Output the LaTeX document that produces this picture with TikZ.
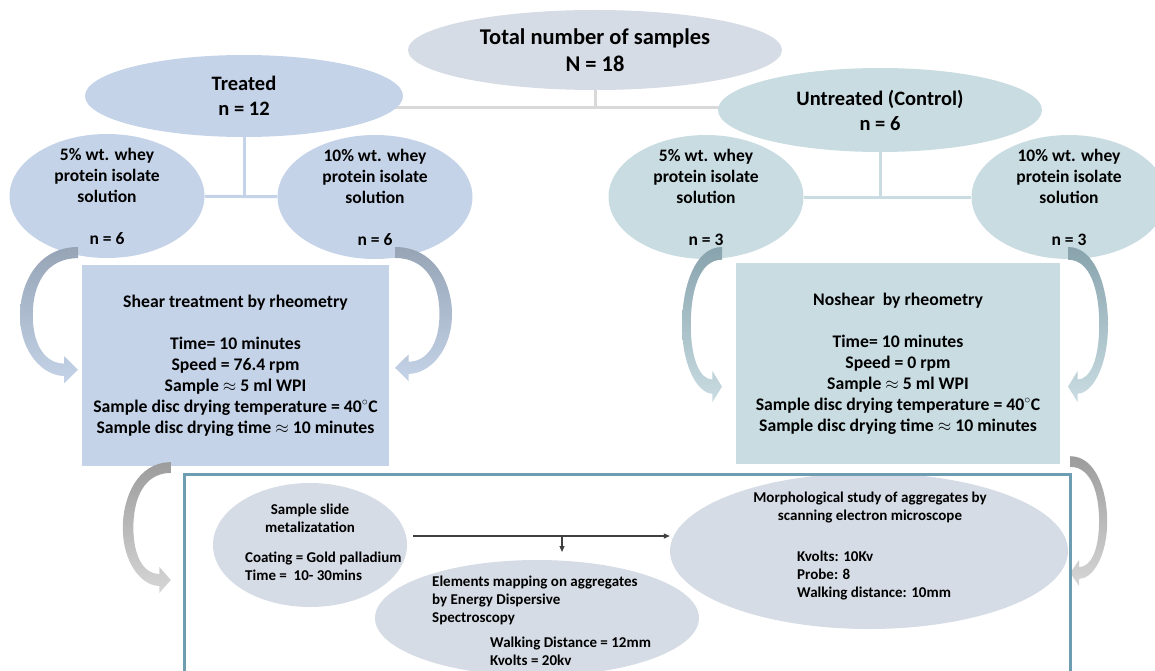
\documentclass[tikz,border=0pt]{standalone}
\usepackage{fontspec}
\setmainfont{Carlito}
\usetikzlibrary{positioning,calc,shapes.geometric,arrows.meta,backgrounds}

\definecolor{topfill}{HTML}{D6DCE5}
\definecolor{tfill}{HTML}{C5D3E8}
\definecolor{ufill}{HTML}{C9DCE2}
\definecolor{framecol}{HTML}{6E9CB0}
\definecolor{joincol}{HTML}{D9D9D9}
\definecolor{tdark}{HTML}{96A4B6}
\definecolor{udark}{HTML}{88A3AD}
\definecolor{gdark}{HTML}{9C9C9C}
\definecolor{glight}{HTML}{D6D6D6}

\tikzset{
  blob/.style={ellipse,inner sep=0pt,align=center},
  kid/.style={blob,minimum width=195pt,minimum height=124pt},
  kidtxt/.style={align=center,inner sep=0pt,font=\fontsize{17.5}{21}\selectfont\bfseries},
  panel/.style={rectangle,inner sep=0pt,align=center,font=\fontsize{17.7}{21}\selectfont\bfseries},
  smalltxt/.style={inner sep=0pt,font=\fontsize{15}{18}\selectfont\bfseries},
  treeline/.style={line width=3pt},
  flow/.style={draw=black!75,line width=1.2pt,-{Triangle[length=6pt,width=5pt]}},
  pics/bendarrow/.style 2 args={code={
    \shade[top color=#1,bottom color=#2]
      (0,0) .. controls (-0.7,0) and (-1,0.3) .. (-1,0.55)
      .. controls (-1,0.85) and (-0.6,1.04) .. (-0.24,1.04)
      -- (-0.24,1.1) -- (0,0.99) -- (-0.24,0.88) -- (-0.24,0.94)
      .. controls (-0.55,0.94) and (-0.78,0.8) .. (-0.78,0.55)
      .. controls (-0.78,0.3) and (-0.55,0.09) .. (0,0.09) -- cycle;
  }}
}

\begin{document}
\begin{tikzpicture}[x=1pt,y=-1pt]
\useasboundingbox (0,0) rectangle (1155,671);

% sample tree
\node[blob,fill=topfill,minimum width=374pt,minimum height=80pt,font=\fontsize{22.5}{27}\selectfont\bfseries] (total) at (595,50) {Total number of samples\\N = 18};
\node[blob,fill=tfill,minimum width=318pt,minimum height=82pt,font=\fontsize{20.5}{25}\selectfont\bfseries] (treated) at (244,96) {Treated\\n = 12};
\node[blob,fill=ufill,minimum width=324pt,minimum height=84pt,font=\fontsize{20.5}{25}\selectfont\bfseries] (untreated) at (880,110) {Untreated (Control)\\n = 6};

\node[kid,fill=tfill] (tfive) at (107,196) {};
\node[kid,fill=tfill] (tten) at (375,197) {};
\node[kid,fill=ufill] (ufive) at (706,197) {};
\node[kid,fill=ufill] (uten) at (1069,197) {};
\node[kidtxt] (tfivetxt) at (tfive) {5\% wt. whey\\protein isolate\\solution\\[21pt]n = 6};
\node[kidtxt] (ttentxt) at (tten) {10\% wt. whey\\protein isolate\\solution\\[21pt]n = 6};
\node[kidtxt] (ufivetxt) at (ufive) {5\% wt. whey\\protein isolate\\solution\\[21pt]n = 3};
\node[kidtxt] (utentxt) at (uten) {10\% wt. whey\\protein isolate\\solution\\[21pt]n = 3};

\begin{scope}[on background layer]
\coordinate (tj) at (595,108);
\draw[treeline,joincol] (total) -- (tj);
\draw[treeline,joincol] (treated.center |- tj) -- (untreated.center |- tj);
\draw[treeline,tfill] (treated) -- (treated |- tfive);
\draw[treeline,tfill] (tfive) -- (tten);
\draw[treeline,ufill] (untreated) -- (untreated |- ufive);
\draw[treeline,ufill] (ufive) -- (uten);
\end{scope}

% rheometry
\node[panel,fill=tfill,minimum width=307pt,minimum height=201pt] (shear) at (235.5,365.5) {Shear treatment by rheometry\\[21pt]Time= 10 minutes\\Speed = 76.4 rpm\\Sample $\approx$ 5 ml WPI\\Sample disc drying temperature = 40$^{\circ}$C\\Sample disc drying time $\approx$ 10 minutes};
\node[panel,fill=ufill,minimum width=324pt,minimum height=201pt] (noshear) at (898,363.5) {Noshear\ \ by rheometry\\[21pt]Time= 10 minutes\\Speed = 0 rpm\\Sample $\approx$ 5 ml WPI\\Sample disc drying temperature = 40$^{\circ}$C\\Sample disc drying time $\approx$ 10 minutes};

\coordinate (tfa) at ($(tfive)+(-29,51)$);
\coordinate (tta) at ($(tten)+(20,50)$);
\coordinate (ufa) at ($(ufive)+(16,50)$);
\coordinate (uta) at ($(uten)+(-1,50)$);
\coordinate (sha) at ($(shear.south west)+(89,-4)$);
\coordinate (nsa) at ($(noshear.south east)+(10,-8)$);
\pic[xscale=58,yscale=124] at (tfa) {bendarrow={tdark}{tfill}};
\pic[xscale=-57,yscale=122] at (tta) {bendarrow={tdark}{tfill}};
\pic[xscale=40,yscale=141] at (ufa) {bendarrow={udark}{ufill}};
\pic[xscale=-40,yscale=141] at (uta) {bendarrow={udark}{ufill}};
\pic[xscale=48,yscale=119] at (sha) {bendarrow={gdark}{glight}};
\pic[xscale=-37,yscale=118] at (nsa) {bendarrow={gdark}{glight}};

% microscopy
\node[blob,fill=topfill,minimum width=194pt,minimum height=124pt] (slide) at (310,545) {};
\node[blob,fill=topfill,minimum width=324pt,minimum height=116pt] (eds) at (537,618) {};
\node[blob,fill=topfill,minimum width=398pt,minimum height=156pt] (sem) at (869,551) {};
\node[smalltxt,align=center] (slidehead) at (310,518) {Sample slide\\metalizatation};
\node[smalltxt,align=left,anchor=west] (slidebody) at (245,566.5) {Coating = Gold palladium\\Time =\ \ 10- 30mins};
\node[smalltxt,align=left,anchor=west] (edshead) at (432,600) {Elements mapping on aggregates\\by Energy Dispersive\\Spectroscopy};
\node[smalltxt,align=left,anchor=west] (edsbody) at (490,651) {Walking Distance = 12mm\\Kvolts = 20kv};
\node[smalltxt,align=center] (semhead) at (870,508) {Morphological study of aggregates by\\scanning electron microscope};
\node[smalltxt,align=left,anchor=west] (sembody) at (797,575.5) {Kvolts: 10Kv\\Probe: 8\\Walking distance: 10mm};

\coordinate (split) at (562,536);
\draw[flow] ([xshift=6pt,yshift=9pt]slide.east) -- ([yshift=15pt]sem.west);
\draw[flow] (split) -- ++(0,16);
\draw[framecol,line width=3pt] (184,474) rectangle (1070,690);
\end{tikzpicture}
\end{document}
